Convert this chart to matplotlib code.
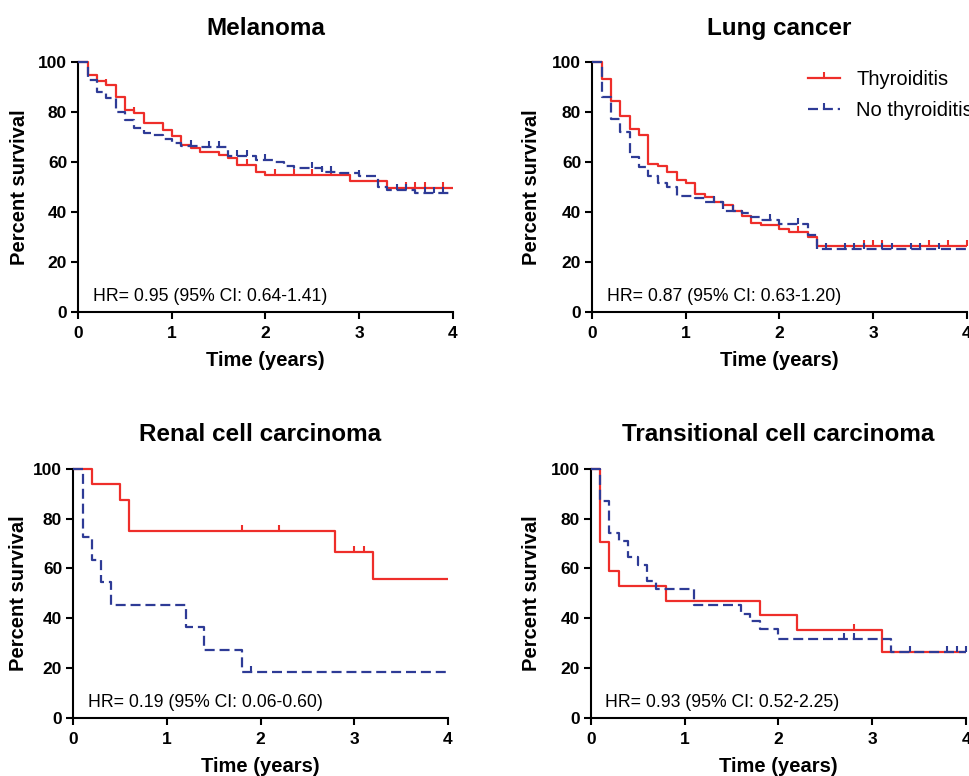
import matplotlib
matplotlib.use("Agg")
import matplotlib.pyplot as plt
from matplotlib.path import Path
from matplotlib.lines import Line2D
import numpy as np

plt.rcParams['font.family'] = ['Liberation Sans', 'DejaVu Sans']

# ---------------- data ----------------
titles = ["Melanoma", "Lung cancer", "Renal cell carcinoma", "Transitional cell carcinoma"]
hr_texts = ["HR= 0.95 (95% CI: 0.64-1.41)", "HR= 0.87 (95% CI: 0.63-1.20)",
            "HR= 0.19 (95% CI: 0.06-0.60)", "HR= 0.93 (95% CI: 0.52-2.25)"]
series_names = ["Thyroiditis", "No thyroiditis"]
followup_end = 4.0
x_ticks = [0, 1, 2, 3, 4]
y_ticks = [0, 20, 40, 60, 80, 100]

# Melanoma
mel_thy_t = [0.1, 0.2, 0.3, 0.4, 0.5, 0.6, 0.7, 0.9, 1.0, 1.1, 1.2, 1.3, 1.5, 1.6, 1.7, 1.9, 2.0, 2.9, 3.3]
mel_thy_s = [94.9, 92.6, 90.9, 86.0, 80.9, 79.5, 75.7, 73.0, 70.5, 66.8, 65.5, 64.2, 63.0, 61.5, 58.8, 56.1, 54.8, 52.6, 49.6]
mel_thy_c = [0.3, 0.6, 1.8, 2.1, 2.3, 2.5, 2.7, 3.5, 3.6, 3.7, 3.9]
mel_no_t = [0.1, 0.2, 0.3, 0.4, 0.5, 0.6, 0.7, 0.8, 0.9, 1.0, 1.1, 1.3, 1.6, 1.9, 2.1, 2.2, 2.3, 2.6, 2.8, 3.0, 3.2, 3.3, 3.6]
mel_no_s = [92.9, 88.0, 85.6, 80.2, 76.9, 73.5, 71.8, 70.9, 69.1, 67.5, 66.6, 65.9, 62.4, 60.8, 59.9, 58.6, 57.5, 56.2, 55.5, 54.6, 50.1, 49.0, 47.6]
mel_no_c = [1.2, 1.4, 1.5, 1.7, 1.8, 2.0, 2.5, 2.6, 2.7, 3.0, 3.4, 3.5, 3.7, 3.8, 3.9]

# Lung cancer
lung_thy_t = [0.1, 0.2, 0.3, 0.4, 0.5, 0.6, 0.7, 0.8, 0.9, 1.0, 1.1, 1.2, 1.3, 1.4, 1.5, 1.6, 1.7, 1.8, 2.0, 2.1, 2.3, 2.4]
lung_thy_s = [93.3, 84.5, 78.6, 73.2, 70.8, 59.4, 58.5, 56.1, 52.7, 51.8, 47.4, 46.1, 44.0, 42.7, 40.4, 38.4, 35.7, 34.9, 33.3, 32.0, 30.0, 26.4]
lung_thy_c = [1.1, 1.5, 2.2, 2.9, 3.0, 3.1, 3.6, 3.8, 4.0]
lung_no_t = [0.1, 0.2, 0.3, 0.4, 0.5, 0.6, 0.7, 0.8, 0.9, 1.1, 1.2, 1.4, 1.6, 1.7, 1.8, 2.0, 2.3, 2.4]
lung_no_s = [85.9, 77.1, 72.2, 62.1, 58.1, 54.4, 51.8, 50.1, 46.5, 45.4, 43.8, 40.4, 39.4, 37.8, 36.7, 35.3, 30.7, 25.0]
lung_no_c = [1.3, 1.5, 1.9, 2.2, 2.5, 2.7, 2.8, 2.9, 3.1, 3.2, 3.4, 3.5, 3.7]

# Renal cell carcinoma
ren_thy_t = [0.2, 0.5, 0.6, 2.8, 3.2]
ren_thy_s = [93.8, 87.5, 75.0, 66.7, 55.6]
ren_thy_c = [1.8, 2.2, 3.0, 3.1]
ren_no_t = [0.1, 0.2, 0.3, 0.4, 1.2, 1.4, 1.8]
ren_no_s = [72.7, 63.6, 54.5, 45.5, 36.4, 27.3, 18.2]
ren_no_c = [1.9]

# Transitional cell carcinoma
tcc_thy_t = [0.1, 0.2, 0.3, 0.8, 1.8, 2.2, 3.1]
tcc_thy_s = [70.6, 58.8, 52.9, 47.1, 41.2, 35.3, 26.5]
tcc_thy_c = [2.8]
tcc_no_t = [0.1, 0.2, 0.3, 0.4, 0.5, 0.6, 0.7, 1.1, 1.6, 1.7, 1.8, 2.0, 3.2]
tcc_no_s = [87.1, 74.2, 71.0, 64.5, 61.3, 54.8, 51.6, 45.2, 41.9, 38.7, 35.5, 31.6, 26.3]
tcc_no_c = [2.7, 2.8, 3.4, 3.8, 3.9, 4.0]

panels = [
    ((mel_thy_t, mel_thy_s, mel_thy_c), (mel_no_t, mel_no_s, mel_no_c)),
    ((lung_thy_t, lung_thy_s, lung_thy_c), (lung_no_t, lung_no_s, lung_no_c)),
    ((ren_thy_t, ren_thy_s, ren_thy_c), (ren_no_t, ren_no_s, ren_no_c)),
    ((tcc_thy_t, tcc_thy_s, tcc_thy_c), (tcc_no_t, tcc_no_s, tcc_no_c)),
]

# ---------------- style ----------------
RED = '#EE2E2A'
BLUE = '#2E3B96'
LW = 1.6
styles = [dict(color=RED, lw=LW, ls='-'),
          dict(color=BLUE, lw=LW, ls=(0, (4.5, 2.2)))]
tick_marker = Path([(0, 0), (0, 1)], [Path.MOVETO, Path.LINETO])

FIG_W, FIG_H = 970, 776
fig = plt.figure(figsize=(FIG_W / 100, FIG_H / 100), dpi=100)
positions = [
    [0.0807, 0.5983, 0.386, 0.3214],
    [0.6106, 0.5983, 0.386, 0.3214],
    [0.0756, 0.0751, 0.386, 0.3205],
    [0.6090, 0.0751, 0.387, 0.3205],
]
ylabel_center_px = [19.5, 532, 18.5, 532]


def surv_at(times, survs, t):
    idx = np.searchsorted(np.asarray(times), t, side='right') - 1
    s = np.concatenate([[100.0], np.asarray(survs, float)])
    return s[idx + 1]


for i, (pos, title, hr, series) in enumerate(zip(positions, titles, hr_texts, panels)):
    ax = fig.add_axes(pos)
    for (t, s, c), st in zip(series, styles):
        xs = np.concatenate([[0.0], t, [followup_end]])
        ys = np.concatenate([[100.0], s, [s[-1]]])
        ax.step(xs, ys, where='post', color=st['color'], lw=st['lw'], ls=st['ls'],
                clip_on=False, zorder=3, solid_capstyle='butt', dash_capstyle='butt')
        cy = [surv_at(t, s, ct) for ct in c]
        ax.plot(c, cy, ls='none', marker=tick_marker, ms=9, mew=1.5,
                mec=st['color'], clip_on=False, zorder=3)
    ax.set_xlim(0, followup_end)
    ax.set_ylim(0, 100)
    ax.set_xticks(x_ticks)
    ax.set_yticks(y_ticks)
    for sp in ['top', 'right']:
        ax.spines[sp].set_visible(False)
    for sp in ['left', 'bottom']:
        ax.spines[sp].set_linewidth(1.5)
    ax.tick_params(width=1.5, length=5, labelsize=12.5, direction='out')
    ax.tick_params(axis='x', pad=5)
    ax.tick_params(axis='y', pad=3)
    for lab in ax.get_xticklabels() + ax.get_yticklabels():
        lab.set_fontweight('bold')
    ax.set_title(title, fontsize=17.5, fontweight='bold', pad=20)
    ax.set_xlabel("Time (years)", fontsize=14.5, fontweight='bold', labelpad=7.5)
    ax.set_ylabel("Percent survival", fontsize=14.5, fontweight='bold')
    ax.yaxis.label.set_va('center')
    left_px = pos[0] * FIG_W
    width_px = pos[2] * FIG_W
    ax.yaxis.set_label_coords((ylabel_center_px[i] - left_px) / width_px, 0.5)
    ax.text(0.038, 0.044, hr, transform=ax.transAxes, fontsize=12.7, va='baseline', ha='left')
    if i == 1:
        handles = [Line2D([], [], color=st['color'], lw=st['lw'], ls=st['ls'],
                          marker=tick_marker, ms=9, mew=1.5, mec=st['color'])
                   for st in styles]
        ax.legend(handles, series_names, loc='upper left', bbox_to_anchor=(0.555, 1.0),
                  frameon=False, fontsize=14.5, handlelength=1.6, handletextpad=0.8,
                  labelspacing=0.6, numpoints=1, borderaxespad=0)

fig.savefig("out.png", dpi=100)
